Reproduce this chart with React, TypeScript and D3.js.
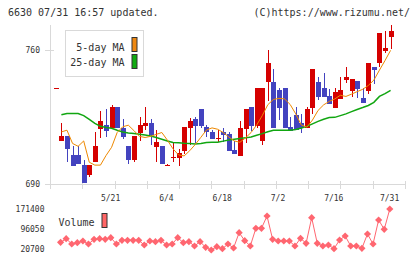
import React from "react";
import * as d3 from "d3";

// daily candles, index 0 is the partial first day
const opens = [740.0, 712.6, 715.1, 705.1, 705.1, 699.9, 694.7, 701.6, 718.9, 720.8, 719.4, 730.1, 719.6, 709.8, 702.5, 716.8, 720.3, 722.0, 709.5, 709.8, 699.6, 703.8, 703.9, 707.4, 719.6, 724.0, 729.0, 719.9, 717.3, 713.7, 717.3, 716.1, 707.8, 704.6, 718.7, 730.1, 720.3, 712.6, 743.4, 743.3, 739.1, 740.0, 719.9, 726.0, 721.7, 719.4, 729.9, 743.3, 740.0, 736.0, 729.9, 734.6, 744.3, 738.7, 743.8, 734.8, 738.7, 751.3, 753.1, 759.5, 766.9];
const closes = [740.0, 715.1, 708.4, 699.6, 700.4, 690.7, 699.9, 709.8, 722.9, 717.8, 730.1, 719.4, 714.7, 702.5, 715.1, 720.8, 722.0, 715.6, 712.1, 700.4, 700.0, 704.2, 706.3, 720.0, 723.1, 720.5, 720.5, 717.0, 713.5, 714.0, 715.6, 707.4, 705.7, 719.4, 729.2, 720.3, 740.0, 740.0, 753.2, 719.4, 729.9, 719.4, 718.0, 718.2, 719.1, 729.2, 750.1, 735.6, 735.6, 731.6, 737.9, 739.1, 746.1, 744.8, 739.6, 732.5, 753.1, 749.6, 768.7, 760.9, 769.9];
const highs = [740.0, 721.7, 715.1, 709.8, 709.8, 702.5, 699.9, 717.3, 728.3, 729.2, 731.3, 730.1, 724.0, 709.8, 715.1, 725.2, 730.1, 724.0, 718.2, 709.8, 700.4, 712.1, 708.6, 720.0, 724.3, 725.2, 729.0, 720.8, 718.2, 718.2, 719.1, 717.3, 712.6, 722.9, 729.2, 730.1, 740.0, 740.0, 760.0, 750.1, 740.0, 740.0, 725.2, 730.1, 726.9, 730.1, 750.1, 746.1, 748.1, 739.5, 740.0, 746.1, 751.3, 744.8, 743.8, 740.0, 753.1, 751.3, 768.7, 769.9, 773.1];
const lows = [740.0, 712.6, 701.6, 699.6, 700.4, 690.7, 693.8, 701.6, 713.9, 714.7, 719.4, 719.4, 713.5, 700.4, 701.6, 712.6, 718.2, 710.4, 701.6, 700.4, 699.6, 701.6, 699.6, 705.7, 710.4, 711.3, 719.6, 714.4, 713.5, 712.1, 712.1, 707.4, 705.7, 704.6, 711.6, 717.7, 719.1, 710.4, 733.5, 719.4, 723.4, 719.4, 718.0, 718.2, 716.8, 719.4, 726.6, 733.9, 735.6, 731.6, 729.9, 734.6, 742.6, 735.6, 734.8, 732.5, 736.9, 742.1, 751.3, 758.3, 760.5];

const ma5 = [null, 717.3, 718.2, 711.3, 709.8, 712.6, 701.5, 700.0, 700.0, 705.0, 709.3, 717.0, 720.0, 720.8, 718.0, 715.0, 714.4, 715.0, 716.0, 717.0, 713.0, 708.5, 705.3, 704.8, 707.5, 710.8, 714.5, 718.3, 719.4, 718.7, 717.0, 714.7, 712.6, 711.9, 714.2, 717.0, 720.9, 725.8, 731.5, 734.2, 734.8, 734.5, 731.6, 726.7, 720.9, 719.8, 723.5, 728.5, 731.4, 733.2, 734.5, 736.4, 735.8, 737.0, 738.3, 739.5, 741.5, 744.3, 749.5, 754.5, 759.8];
const ma25 = [null, 726.2, 726.9, 726.9, 726.9, 725.8, 723.8, 721.8, 720.2, 719.6, 719.2, 718.2, 717.3, 716.7, 716.5, 716.1, 715.7, 715.2, 714.4, 713.5, 712.6, 711.8, 711.6, 711.4, 711.3, 711.0, 711.3, 711.8, 711.9, 711.9, 712.5, 713.1, 713.5, 713.9, 714.2, 714.7, 715.6, 716.4, 717.4, 718.2, 718.2, 718.2, 718.2, 718.6, 719.3, 720.2, 721.5, 722.8, 723.9, 724.8, 724.9, 725.8, 726.7, 727.9, 729.0, 730.0, 731.1, 732.7, 735.8, 737.3, 739.0];

const volumes = [null, 45900, 59500, 39500, 44400, 50800, 39500, 57200, 59500, 57200, 63300, 39500, 53500, 53500, 53500, 53500, 35800, 50800, 48200, 53500, 35800, 39500, 63300, 44400, 48200, 32000, 48200, 27100, 16900, 29400, 21800, 39500, 24500, 82100, 52000, 32000, 98700, 98700, 145000, 57200, 50800, 50800, 50800, 32000, 61000, 42200, 138600, 42200, 32000, 35800, 21800, 54600, 69700, 32000, 32000, 23300, 77200, 39500, 130000, 94900, 171400];

const dateLabels = ["5/21", "6/4", "6/18", "7/2", "7/16", "7/31"];
const dateIdx = [10, 20, 30, 40, 50, 60];
const priceTicks = [690, 760];
const volTicks = [20700, 96050, 171400];

const font = "'DejaVu Sans Mono', monospace";
const red = "#d50000";
const blue = "#4343bf";
const grid = "#d9d9d9";
const ink = "#333";
const volColor = "#ff6670";

export default function App() {
  const x = d3.scaleLinear().domain([0, 60]).range([55.8, 390.6]);
  const y = d3.scaleLinear().domain([690, 760]).range([184.3, 50]);
  const yv = d3.scaleLinear().domain([20700, 171400]).range([249, 209]);
  const gridX = d3.range(12).map((k) => 50 + k * (355 / 11));

  const maLine = d3
    .line<number | null>()
    .defined((d) => d != null)
    .x((_d, i) => x(i))
    .y((d) => y(d as number));
  const volLine = d3
    .line<number | null>()
    .defined((d) => d != null)
    .x((_d, i) => x(i) - 0.8)
    .y((d) => yv(d as number));
  const diamond = d3.symbol().type(d3.symbolSquare).size(26)();

  return (
    <svg width={420} height={259} style={{ position: "absolute", left: 0, top: 0, background: "#fff" }} fontFamily={font}>
      <text x={8} y={16} fontSize={10} fill={ink}>6630 07/31 16:57 updated.</text>
      <text x={410} y={16} fontSize={10} fill={ink} textAnchor="end">(C)https://www.rizumu.net/</text>

      {/* axes */}
      <g shapeRendering="crispEdges" stroke={grid}>
        <line x1={50.5} x2={50.5} y1={25} y2={189} />
        <line x1={45} x2={405} y1={184.5} y2={184.5} />
        <line x1={45} x2={54} y1={50.5} y2={50.5} />
        {gridX.map((gx, k) => (
          <line key={k} x1={Math.round(gx) + 0.5} x2={Math.round(gx) + 0.5} y1={181} y2={189} />
        ))}
      </g>
      {priceTicks.map((t) => (
        <text key={t} x={40} y={y(t) + 3} fontSize={8} fill={ink} textAnchor="end">{t}</text>
      ))}
      {dateLabels.map((lab, k) => (
        <text key={lab} x={x(dateIdx[k]) - 1} y={200.7} fontSize={8} fill={ink} textAnchor="middle">{lab}</text>
      ))}

      {/* candles */}
      <g shapeRendering="crispEdges">
        {closes.map((c, i) => {
          const o = opens[i];
          const up = c >= o;
          const col = up ? red : blue;
          const cx = Math.round(x(i));
          const top = Math.round(y(Math.max(o, c)));
          const bot = Math.round(y(Math.min(o, c)));
          return (
            <g key={i} fill={col}>
              <rect x={cx} y={Math.round(y(highs[i]))} width={1} height={Math.max(1, Math.round(y(lows[i])) - Math.round(y(highs[i])))} />
              <rect x={cx - 2} y={top} width={5} height={Math.max(1, bot - top)} />
            </g>
          );
        })}
      </g>

      <path d={maLine(ma25) || ""} fill="none" stroke="#11a611" strokeWidth={1.5} />
      <path d={maLine(ma5) || ""} fill="none" stroke="#ee8800" strokeWidth={1} />

      {/* legend */}
      <rect x={65.5} y={30.5} width={78} height={46} fill="#fff" stroke={grid} />
      <text x={124.5} y={50.7} fontSize={10} fill={ink} textAnchor="end">5-day MA</text>
      <text x={124.5} y={65.7} fontSize={10} fill={ink} textAnchor="end">25-day MA</text>
      <rect x={132} y={37.5} width={5} height={14} fill="#ee8811" stroke={ink} />
      <rect x={132} y={54.5} width={5} height={14} fill="#11aa11" stroke={ink} />

      {/* volume */}
      {volTicks.map((t) => (
        <text key={t} x={44.5} y={yv(t) + 3} fontSize={8} fill={ink} textAnchor="end">{t}</text>
      ))}
      <text x={58.5} y={226} fontSize={10} fill={ink}>Volume</text>
      <rect x={102} y={213.5} width={5} height={14} fill="#ff6666" stroke={ink} />
      <path d={volLine(volumes) || ""} fill="none" stroke={volColor} strokeWidth={1} />
      {volumes.map((v, i) =>
        v == null ? null : (
          <path key={i} d={diamond || ""} transform={`translate(${x(i) - 0.8},${yv(v)}) rotate(45)`} fill={volColor} />
        )
      )}
    </svg>
  );
}
